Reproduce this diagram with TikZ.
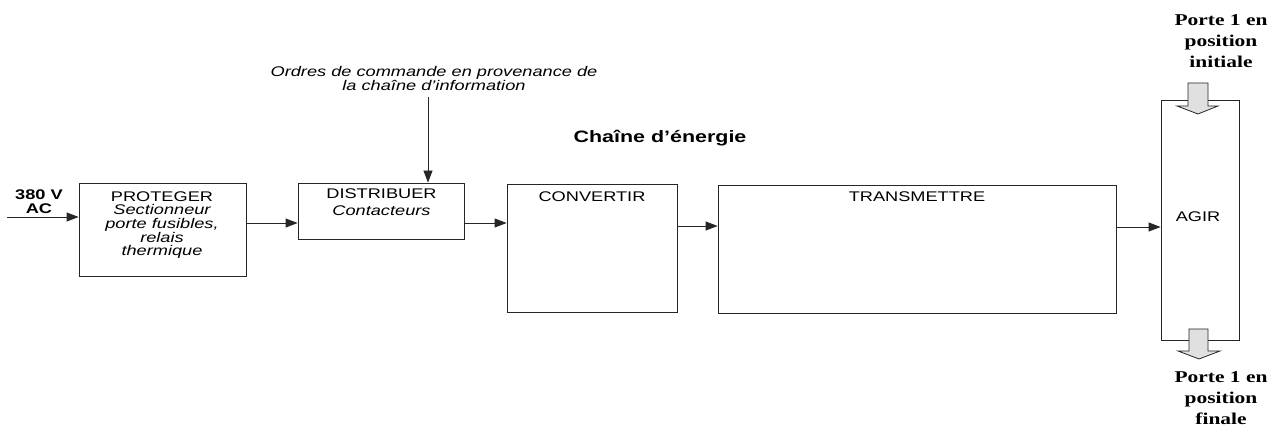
\documentclass[tikz,border=0pt]{standalone}
\usepackage{fontspec}
\setmainfont{Liberation Sans}[FakeStretch=1.3]
\newfontfamily\portefont{Liberation Serif}[FakeStretch=1.3]
\usetikzlibrary{arrows.meta}

\begin{document}
\begin{tikzpicture}[x=1pt,y=-1pt,
  box/.style={draw=black!85,line width=0.8pt,inner sep=0pt},
  lbl/.style={font=\fontsize{14}{13.7}\selectfont,align=center,inner sep=0pt},
  arr/.style={draw=black!85,line width=0.8pt,-{Triangle[length=12pt,width=9pt]}},
  blk/.style={draw=black!85,line width=0.8pt,fill=black!12},
  porte/.style={font=\portefont\bfseries\fontsize{16.5}{21}\selectfont,align=center,inner sep=0pt}]
\useasboundingbox (0,0) rectangle (1269,427);
% blocs de la chaine
\node[box,minimum width=167pt,minimum height=93pt] (prot) at (162.5,229.5) {};
\node[box,minimum width=166pt,minimum height=56pt] (dist) at (381,211) {};
\node[box,minimum width=170pt,minimum height=128pt] (conv) at (592,248) {};
\node[box,minimum width=398pt,minimum height=128pt] (trans) at (917,249) {};
\node[box,minimum width=78pt,minimum height=240pt] (agir) at (1200,220.5) {};
% textes des blocs
\node[lbl] (protT) at (162,225) {PROTEGER\\\itshape Sectionneur\\\itshape porte fusibles,\\\itshape relais\\\itshape thermique};
\node[lbl] (distT) at (381.5,202) {DISTRIBUER\\[3pt]\itshape Contacteurs};
\node[lbl] (convT) at (592,197) {CONVERTIR};
\node[lbl] (transT) at (917,197) {TRANSMETTRE};
\node[lbl] (agirT) at (1198,217) {AGIR};
\node[lbl,font=\bfseries\fontsize{14}{14}\selectfont] (ac) at (39,202) {380 V\\AC};
\node[lbl,font=\itshape\fontsize{14}{13.3}\selectfont] (ord) at (434,78.5) {Ordres de commande en provenance de\\la chaîne d’information};
\node[lbl,font=\bfseries\fontsize{16.5}{18}\selectfont] (titre) at (660,138) {Chaîne d’énergie};
\node[porte] (init) at (1221,41) {Porte 1 en\\position\\initiale};
\node[porte] (fin) at (1221,398) {Porte 1 en\\position\\finale};
% liaisons
\coordinate (src) at (7,217);
\coordinate (cmd) at (428,97);
\draw[arr] (src) -- (src -| prot.west);
\draw[arr] (cmd) -- (cmd |- dist.north);
\draw[arr] (prot.east |- 0,223) -- (dist.west |- 0,223);
\draw[arr] (dist.east |- 0,223) -- (conv.west |- 0,223);
\draw[arr] (conv.east |- 0,226) -- (trans.west |- 0,226);
\draw[arr] (trans.east |- 0,227) -- (agir.west |- 0,227);
% fleches de position
\draw[blk] (1188,83) -- (1208,83) -- (1208,106) -- (1218,106) -- (1198,114) -- (1177,106) -- (1188,106) -- cycle;
\draw[blk] (1189,329) -- (1208,329) -- (1208,351) -- (1220,351) -- (1199,359) -- (1178,351) -- (1189,351) -- cycle;
\end{tikzpicture}
\end{document}
